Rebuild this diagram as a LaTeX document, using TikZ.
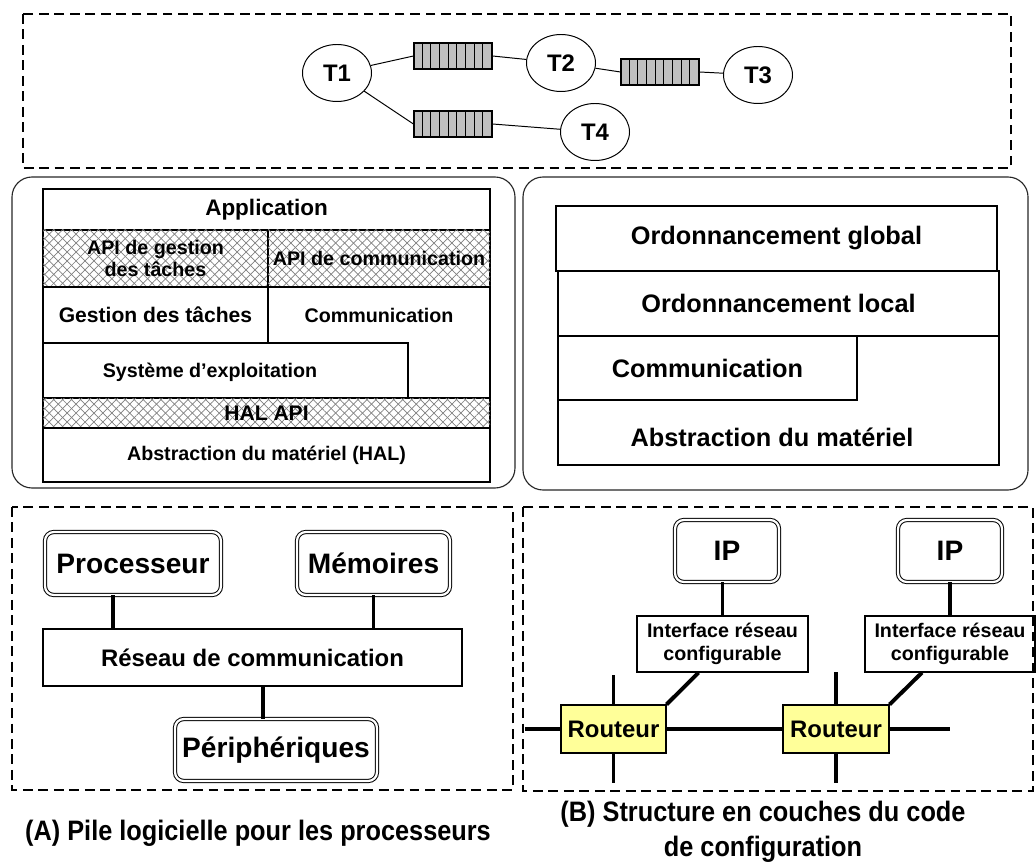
\documentclass[tikz,border=0pt]{standalone}
\usepackage{fontspec}
\setmainfont{Liberation Sans}
\usetikzlibrary{shapes.geometric,patterns.meta}
\definecolor{routeur}{HTML}{FFFF99}

\begin{document}
\begin{tikzpicture}[x=0.025cm, y=-0.025cm,
  wh/.style 2 args={minimum width=#1*0.025cm, minimum height=#2*0.025cm},
  frame/.style={line width=1.4pt, dash pattern=on 7pt off 4pt},
  panel/.style={draw=black!85, line width=0.8pt, rounded corners=0.5cm},
  task/.style={draw, ellipse, line width=0.7pt, wh={69}{57}, font=\bfseries\fontsize{17}{20}\selectfont},
  queue/.style={draw, fill=black!25, line width=0.8pt, inner sep=0pt, wh={78}{26}},
  layer/.style={draw, fill=white, line width=1.5pt, inner sep=0pt, align=center, font=\bfseries\fontsize{14}{16}\selectfont},
  big/.style={layer, font=\bfseries\fontsize{18}{21}\selectfont},
  hatch/.style={layer,
    postaction={pattern={Lines[angle=45,distance=4.5pt,line width=0.5pt]}, pattern color=black!50},
    postaction={pattern={Lines[angle=-45,distance=4.5pt,line width=0.5pt]}, pattern color=black!50}},
  hw/.style={draw, double, double distance=1.6pt, line width=0.7pt, rounded corners=0.22cm, inner sep=0pt, font=\bfseries\fontsize{20}{24}\selectfont},
  netif/.style={draw, line width=0.8pt, inner sep=0pt, align=center, font=\bfseries\fontsize{14}{16.5}\selectfont},
  router/.style={draw, fill=routeur, line width=0.8pt, inner sep=0pt, font=\bfseries\fontsize{17}{20}\selectfont},
  bus/.style={line width=2.8pt},
  caption/.style={align=center, xscale=0.9, transform shape, font=\bfseries\fontsize{20}{25}\selectfont}]

\useasboundingbox (0,0) rectangle (1036,865);

% graphe de taches
\draw[frame] (23,14) rectangle (1011,168);
\node[task] (t1) at (337,73) {T1};
\node[task] (t2) at (561,63) {T2};
\node[task] (t3) at (758,75) {T3};
\node[task] (t4) at (595,132) {T4};
\foreach \q/\x/\y in {q1/453/56, q2/660/72, q3/453/124} {
  \node[queue] (\q) at (\x,\y) {};
  \foreach \i in {1,...,8}
    \draw[line width=0.8pt] ([xshift=\i*0.2167cm]\q.south west) -- ([xshift=\i*0.2167cm]\q.north west);
}
\draw[line width=0.7pt] (t1) -- (q1.west);
\draw[line width=0.7pt] (q1.east) -- (t2);
\draw[line width=0.7pt] (t2) -- (q2.west);
\draw[line width=0.7pt] (q2.east) -- (t3);
\draw[line width=0.7pt] (t1) -- (q3.west);
\draw[line width=0.7pt] (q3.east) -- (t4);

% pile logicielle
\draw[panel] (12,177) rectangle (515,488);
\node[layer, wh={447}{41}, font=\bfseries\fontsize{16}{19}\selectfont] (app) at (266.5,209.5) {Application};
\node[hatch, wh={225}{57}] (apit) at (155.5,258.5) {API de gestion\\des tâches};
\node[hatch, wh={222}{57}] (apic) at (379,258.5) {API de communication};
\node[layer, wh={225}{56}, font=\bfseries\fontsize{15}{18}\selectfont] (gest) at (155.5,315) {Gestion des tâches};
\node[layer, wh={222}{111}] (comm) at (379,342.5) {};
\node[font=\bfseries\fontsize{14}{16}\selectfont] (commtxt) at (379,315) {Communication};
\node[layer, wh={365}{55}] (os) at (225.5,370.5) {};
\node[font=\bfseries\fontsize{14}{16}\selectfont] (ostxt) at (210,372) {Système d’exploitation};
\node[hatch, wh={447}{30}, font=\bfseries\fontsize{15}{17}\selectfont] (halapi) at (266.5,413) {HAL API};
\node[layer, wh={447}{54}] (hal) at (266.5,455) {Abstraction du matériel (HAL)};

% code de configuration
\draw[panel] (523,177) rectangle (1028,490);
\node[big, wh={441}{65}] (glob) at (776.5,238.5) {Ordonnancement global};
\node[big, wh={441}{65}] (loc) at (778.5,303.5) {Ordonnancement local};
\node[big, wh={441}{129}] (abs) at (778.5,400.5) {};
\node[font=\bfseries\fontsize{18}{21}\selectfont] (abstxt) at (772,437) {Abstraction du matériel};
\node[big, wh={299}{64}] (rcomm) at (707.5,368) {Communication};

% architecture materielle
\draw[frame] (12,507) rectangle (513,790);
\node[hw, wh={176}{63}] (proc) at (133,563.5) {Processeur};
\node[hw, wh={153}{63}] (mem) at (373.5,563.5) {Mémoires};
\node[layer, wh={419}{57}, line width=0.8pt, font=\bfseries\fontsize{17}{20}\selectfont] (res) at (252.5,657.5) {Réseau de communication};
\node[hw, wh={202}{62}] (per) at (276,750) {Périphériques};
\draw[bus] ([xshift=-0.5cm]proc.south) -- ([xshift=-0.5cm]proc.south |- res.north);
\draw[bus] (mem.south) -- (mem.south |- res.north);
\draw[bus] ([xshift=-0.33cm]per.north |- res.south) -- ([xshift=-0.33cm]per.north);

% reseau sur puce
\draw[frame] (523,507) rectangle (1033,791);
\node[hw, wh={104}{62}] (ip1) at (727,551) {IP};
\node[hw, wh={104}{62}] (ip2) at (950,551) {IP};
\node[netif, wh={171}{56}] (if1) at (722.5,644) {Interface réseau\\configurable};
\node[netif, wh={170}{56}] (if2) at (950,644) {Interface réseau\\configurable};
\node[router, wh={105}{48}] (r1) at (613.5,729) {Routeur};
\node[router, wh={106}{48}] (r2) at (836,729) {Routeur};
\coordinate (west) at (525,729);
\coordinate (east) at (950,729);
\coordinate (r1up) at (613.5,675);
\coordinate (r1down) at (613.5,783);
\coordinate (r2up) at (836,672);
\coordinate (r2down) at (836,783);
\draw[bus] (west) -- (r1) -- (r2) -- (east);
\draw[bus] (r1up) -- (r1) -- (r1down);
\draw[bus] (r2up) -- (r2) -- (r2down);
\draw[bus] (if1.north |- ip1.south) -- (if1.north);
\draw[bus] (if2.north |- ip2.south) -- (if2.north);
\draw[bus] ([xshift=-0.6cm]if1.south) -- (r1.north east);
\draw[bus] ([xshift=-0.7cm]if2.south) -- (r2.north east);

% legendes
\node[caption] (capa) at (258,833) {(A) Pile logicielle pour les processeurs};
\node[caption] (capb) at (763,832) {(B) Structure en couches du code\\de configuration};
\end{tikzpicture}
\end{document}
